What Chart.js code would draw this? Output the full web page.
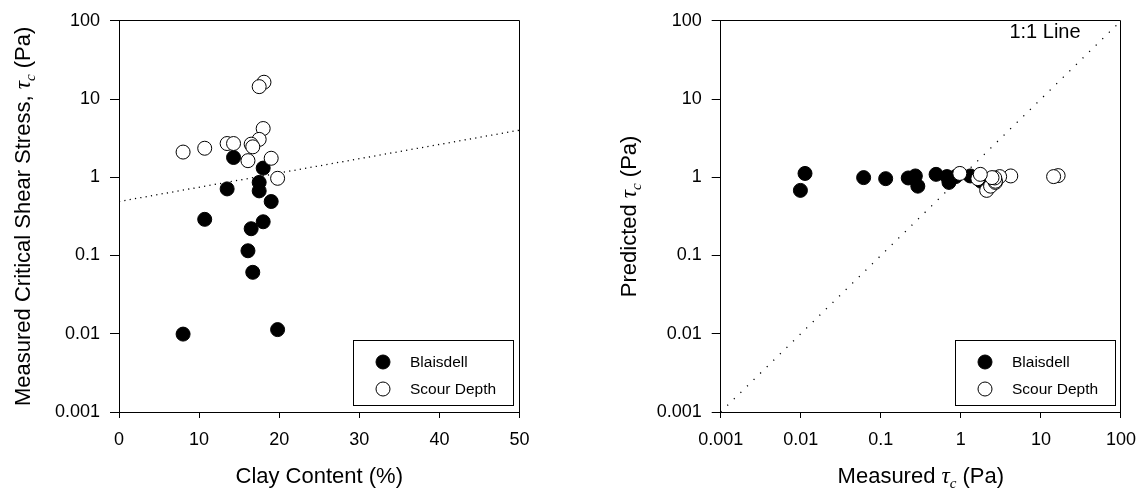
<!DOCTYPE html>
<html>
<head>
<meta charset="utf-8">
<script src="https://cdn.jsdelivr.net/npm/chart.js@4.4.1/dist/chart.umd.min.js"></script>
<style>
  html, body { margin: 0; padding: 0; background: #fff; }
  #wrap { position: relative; width: 1147px; height: 497px; }
  #leftChart { position: absolute; left: 0; top: 0; width: 574px; height: 497px; }
  #rightChart { position: absolute; left: 574px; top: 0; width: 573px; height: 497px; }
</style>
</head>
<body>
<div id="wrap">
  <canvas id="leftChart" width="574" height="497"></canvas>
  <canvas id="rightChart" width="573" height="497"></canvas>
</div>
<script>
// ---- data ----
const decadeValues = [0.001, 0.01, 0.1, 1, 10, 100];
const decadeLabels = ['0.001', '0.01', '0.1', '1', '10', '100'];
const clayTicks = [0, 10, 20, 30, 40, 50];

// Blaisdell samples: clay content (%), measured and predicted critical shear stress (Pa)
const blaisdellClay = [14.3, 18.0, 17.5, 13.5, 17.5, 19.0, 10.7, 18.0, 16.5, 16.1, 16.7, 8.0, 19.8];
const blaisdellTau = [1.79, 1.31, 0.86, 0.71, 0.67, 0.49, 0.29, 0.27, 0.22, 0.115, 0.061, 0.0099, 0.0113];
const blaisdellPred = [0.89, 1.04, 1.02, 0.86, 1.02, 1.09, 0.77, 1.04, 0.98, 0.96, 0.99, 0.68, 1.12];

// Scour depth samples
const scourClay = [18.1, 17.5, 18.0, 17.5, 8.0, 10.7, 13.5, 14.3, 16.5, 16.7, 16.1, 19.0, 19.8];
const scourTau = [16.4, 14.4, 4.2, 3.05, 2.1, 2.35, 2.7, 2.7, 2.65, 2.45, 1.63, 1.75, 0.97];
const scourPred = [1.05, 1.02, 1.04, 1.02, 0.68, 0.77, 0.86, 0.89, 0.98, 0.99, 0.96, 1.09, 1.12];

// Regression line through clay content (end points)
const fitClay = [0, 50];
const fitTau = [0.49, 4.0];

// 1:1 reference line end points
const oneToOne = [0.001, 100];

// ---- helpers ----
const SANS = "'Liberation Sans', Arial, Helvetica, sans-serif";
const SERIF = "'Liberation Serif', 'Times New Roman', serif";

function pts(xs, ys) { return xs.map((x, i) => ({ x: x, y: ys[i] })); }

function decadeLabel(v) {
  for (let i = 0; i < decadeValues.length; i++) {
    if (Math.abs(Math.log10(v) - Math.log10(decadeValues[i])) < 1e-6) return decadeLabels[i];
  }
  return '';
}

function alignPx(p) { return Math.round(p - 0.5) + 0.5; }

// draws a run of differently styled text pieces centred at (cx, cy)
function drawRich(ctx, parts, cx, cy, rotate) {
  ctx.save();
  ctx.translate(cx, cy);
  if (rotate) ctx.rotate(-Math.PI / 2);
  ctx.fillStyle = '#000';
  ctx.textBaseline = 'alphabetic';
  ctx.textAlign = 'left';
  let total = 0;
  const widths = parts.map(p => { ctx.font = p.font; const w = ctx.measureText(p.text).width; total += w; return w; });
  let x = -total / 2;
  parts.forEach((p, i) => {
    ctx.font = p.font;
    ctx.fillText(p.text, x, p.dy || 0);
    x += widths[i];
  });
  ctx.restore();
}

const decorPlugin = {
  id: 'decor',
  afterDraw(chart, args, opts) {
    const ctx = chart.ctx;
    const a = chart.chartArea;
    ctx.save();
    // frame round the plot area
    ctx.strokeStyle = '#000';
    ctx.lineWidth = 1;
    const l = alignPx(a.left), r = alignPx(a.right), t = alignPx(a.top), b = alignPx(a.bottom);
    ctx.beginPath();
    ctx.moveTo(l, t); ctx.lineTo(r, t); ctx.lineTo(r, b);
    ctx.stroke();

    // axis titles
    const cxArea = (a.left + a.right) / 2;
    const cyArea = (a.top + a.bottom) / 2;
    drawRich(ctx, opts.xTitle, cxArea, opts.xTitleBaseline, false);
    drawRich(ctx, opts.yTitle, opts.yTitleX, cyArea, true);

    // legend box
    const L = opts.legend;
    ctx.strokeStyle = '#000';
    ctx.lineWidth = 1;
    ctx.strokeRect(L.x + 0.5, L.y + 0.5, L.w, L.h);
    ctx.font = '15.5px ' + SANS;
    ctx.textBaseline = 'middle';
    ctx.textAlign = 'left';
    L.items.forEach((it, i) => {
      const cy = L.y + L.row0 + i * L.rowGap;
      ctx.beginPath();
      ctx.arc(L.x + L.markX, cy, 7, 0, Math.PI * 2);
      ctx.fillStyle = it.fill;
      ctx.fill();
      ctx.strokeStyle = '#000';
      ctx.stroke();
      ctx.fillStyle = '#000';
      ctx.fillText(it.label, L.x + L.textX, cy + 1);
    });

    // free text note
    if (opts.note) {
      ctx.font = opts.note.font;
      ctx.fillStyle = '#000';
      ctx.textAlign = 'center';
      ctx.textBaseline = 'alphabetic';
      ctx.fillText(opts.note.text, opts.note.x, opts.note.y);
    }
    ctx.restore();
  }
};

function logAxis(tickLen) {
  return {
    type: 'logarithmic',
    min: 0.001,
    max: 100,
    afterBuildTicks: s => { s.ticks = decadeValues.map(v => ({ value: v })); },
    ticks: {
      callback: v => decadeLabel(v),
      font: { family: SANS, size: 18 },
      color: '#000',
      padding: 10,
      autoSkip: false,
      maxRotation: 0
    },
    grid: { display: true, drawOnChartArea: false, drawTicks: true, tickLength: tickLen, tickColor: '#000', color: '#000' },
    border: { display: true, color: '#000', width: 1 }
  };
}

const legendItems = [
  { label: 'Blaisdell', fill: '#000' },
  { label: 'Scour Depth', fill: '#fff' }
];

const filledStyle = { pointRadius: 7, pointHoverRadius: 7, backgroundColor: '#000', borderColor: '#000', borderWidth: 1, showLine: false };
const openStyle = { pointRadius: 7, pointHoverRadius: 7, backgroundColor: '#fff', borderColor: '#000', borderWidth: 1, showLine: false };
const dotted = (gap) => ({ showLine: true, pointRadius: 0, borderColor: '#000', borderWidth: 1.3, borderDash: [1.2, gap], backgroundColor: 'transparent', fill: false });

const bigFont = '22px ' + SANS;
const tauFont = 'italic 23px ' + SERIF;
const subFont = 'italic 15px ' + SERIF;

// ---- left panel: critical shear stress against clay content ----
new Chart(document.getElementById('leftChart'), {
  type: 'scatter',
  data: {
    datasets: [
      Object.assign({ label: 'Blaisdell', data: pts(blaisdellClay, blaisdellTau), order: 2 }, filledStyle),
      Object.assign({ label: 'Scour Depth', data: pts(scourClay, scourTau), order: 1 }, openStyle),
      Object.assign({ label: 'fit', data: pts(fitClay, fitTau), order: 3 }, dotted(4.2))
    ]
  },
  options: {
    responsive: false,
    animation: false,
    events: [],
    layout: { padding: { left: 0, top: 12, right: 54.5, bottom: 0 } },
    plugins: {
      legend: { display: false },
      tooltip: { enabled: false },
      decor: {
        xTitle: [{ text: 'Clay Content (%)', font: bigFont }],
        xTitleBaseline: 483,
        yTitle: [
          { text: 'Measured Critical Shear Stress, ', font: bigFont },
          { text: '\u03c4', font: tauFont },
          { text: 'c', font: subFont, dy: 5 },
          { text: ' (Pa)', font: bigFont }
        ],
        yTitleX: 30,
        legend: { x: 353, y: 340, w: 160, h: 65, row0: 22, rowGap: 27, markX: 30, textX: 57, items: legendItems }
      }
    },
    scales: {
      x: {
        type: 'linear',
        min: 0,
        max: 50,
        afterBuildTicks: s => { s.ticks = clayTicks.map(v => ({ value: v })); },
        afterFit: s => { s.height = 85; },
        ticks: { font: { family: SANS, size: 18 }, color: '#000', padding: 11, maxRotation: 0, autoSkip: false },
        grid: { display: true, drawOnChartArea: false, drawTicks: true, tickLength: 6, tickColor: '#000', color: '#000' },
        border: { display: true, color: '#000', width: 1 }
      },
      y: Object.assign(logAxis(9), { afterFit: s => { s.width = 119; } })
    }
  },
  plugins: [decorPlugin]
});

// ---- right panel: predicted against measured ----
new Chart(document.getElementById('rightChart'), {
  type: 'scatter',
  data: {
    datasets: [
      Object.assign({ label: 'Blaisdell', data: pts(blaisdellTau, blaisdellPred), order: 2 }, filledStyle),
      Object.assign({ label: 'Scour Depth', data: pts(scourTau, scourPred), order: 1 }, openStyle),
      Object.assign({ label: '1:1', data: pts(oneToOne, oneToOne), order: 3 }, dotted(8))
    ]
  },
  options: {
    responsive: false,
    animation: false,
    events: [],
    layout: { padding: { left: 0, top: 12, right: 26, bottom: 0 } },
    plugins: {
      legend: { display: false },
      tooltip: { enabled: false },
      decor: {
        xTitle: [
          { text: 'Measured ', font: bigFont },
          { text: '\u03c4', font: tauFont },
          { text: 'c', font: subFont, dy: 5 },
          { text: ' (Pa)', font: bigFont }
        ],
        xTitleBaseline: 483,
        yTitle: [
          { text: 'Predicted ', font: bigFont },
          { text: '\u03c4', font: tauFont },
          { text: 'c', font: subFont, dy: 5 },
          { text: ' (Pa)', font: bigFont }
        ],
        yTitleX: 62,
        legend: { x: 381, y: 340, w: 160, h: 65, row0: 22, rowGap: 27, markX: 30, textX: 57, items: legendItems },
        note: { text: '1:1 Line', font: '20px ' + SANS, x: 471, y: 38 }
      }
    },
    scales: {
      x: Object.assign(logAxis(6), {
        position: 'bottom',
        afterFit: s => { s.height = 85; },
        ticks: {
          callback: v => decadeLabel(v),
          font: { family: SANS, size: 18 },
          color: '#000',
          padding: 11,
          autoSkip: false,
          maxRotation: 0
        }
      }),
      y: Object.assign(logAxis(9), { afterFit: s => { s.width = 146.7; } })
    }
  },
  plugins: [decorPlugin]
});
</script>
</body>
</html>
